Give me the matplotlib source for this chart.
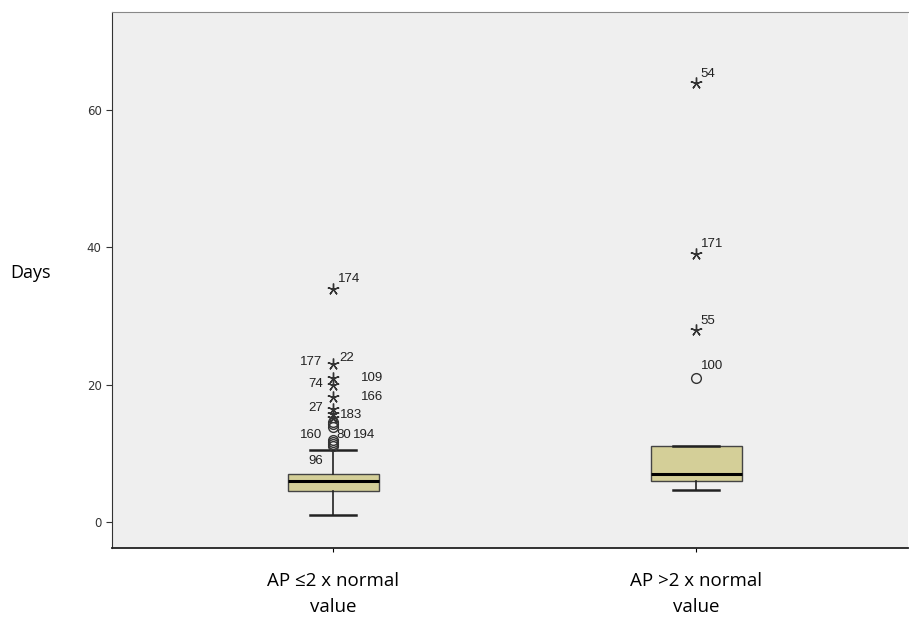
import matplotlib
matplotlib.use("Agg")
import matplotlib.pyplot as plt

# group names shown under the boxes
groups = ["AP \u22642 x normal\nvalue", "AP >2 x normal\nvalue"]

# box statistics (days)
q1 = [4.5, 6.0]
median = [6.0, 7.0]
q3 = [7.0, 11.0]
whisker_low = [1.0, 4.6]
whisker_high = [10.5, 11.0]

# mild outliers (circles) and extreme outliers (stars)
mild_g1 = [11.0, 11.3, 11.6, 12.0, 13.8, 14.2, 14.6]
extreme_g1 = [15.2, 15.7, 16.4, 18.2, 20.0, 21.0, 23.0, 34.0]
mild_g2 = [21.0]
extreme_g2 = [28.0, 39.0, 64.0]

# case labels: (group, value, text)
case_labels = [
    (1, 34.0, "174"), (1, 23.0, "177"), (1, 23.0, "22"), (1, 21.0, "109"),
    (1, 20.0, "74"), (1, 18.2, "166"), (1, 16.4, "27"), (1, 15.5, "183"),
    (1, 13.0, "160"), (1, 13.0, "80"), (1, 13.0, "194"), (1, 9.0, "96"),
    (2, 64.0, "54"), (2, 39.0, "171"), (2, 28.0, "55"), (2, 21.0, "100"),
]
# label offsets in points (dx, dy)
label_offsets = {
    "174": (3, 5), "177": (-24, -1), "22": (4, 2), "109": (20, -2),
    "74": (-18, -2), "166": (20, -2), "27": (-18, -1), "183": (5, -2),
    "160": (-24, -4), "80": (2, -4), "194": (14, -4), "96": (-18, -3),
    "54": (3, 4), "171": (3, 5), "55": (3, 4), "100": (3, 6),
}

fig = plt.figure(figsize=(9.09, 6.2), dpi=100)
ax = fig.add_axes([0.1232, 0.1161, 0.8757, 0.8645])
ax.set_facecolor("#efefef")

stats = []
for i in range(2):
    stats.append({"med": median[i], "q1": q1[i], "q3": q3[i],
                  "whislo": whisker_low[i], "whishi": whisker_high[i],
                  "fliers": []})

ax.bxp(stats, positions=[1, 2], widths=0.25, capwidths=0.127,
       patch_artist=True, showfliers=False,
       boxprops=dict(facecolor="#d4cf98", edgecolor="#444444", linewidth=1.0),
       medianprops=dict(color="black", linewidth=2.2),
       whiskerprops=dict(color="#222222", linewidth=1.2),
       capprops=dict(color="#222222", linewidth=1.8))

star = (5, 2, 0)
ax.plot([1] * len(mild_g1), mild_g1, "o", mfc="none", mec="#333333", ms=7, mew=1.0)
ax.plot([2] * len(mild_g2), mild_g2, "o", mfc="none", mec="#333333", ms=7, mew=1.0)
ax.plot([1] * len(extreme_g1), extreme_g1, marker=star, ls="none", color="#333333", ms=8.5, mew=1.0)
ax.plot([2] * len(extreme_g2), extreme_g2, marker=star, ls="none", color="#333333", ms=8.5, mew=1.0)

for g, v, t in case_labels:
    ax.annotate(t, (g, v), xytext=label_offsets[t], textcoords="offset points",
                fontsize=9.5, color="#222222", family="Liberation Sans")

ax.set_xlim(0.39, 2.583)
ax.set_ylim(-3.8, 74.3)
ax.set_yticks([0, 20, 40, 60])
ax.set_xticks([1, 2])
ax.set_xticklabels(groups, fontsize=13.5, family="Open Sans", linespacing=1.6)
ax.tick_params(axis="y", labelsize=8.5, length=4, color="#333333", labelcolor="#333333")
ax.tick_params(axis="x", length=3, pad=14)

ax.spines["right"].set_visible(False)
ax.spines["top"].set_color("#888888")
ax.spines["left"].set_color("#333333")
ax.spines["bottom"].set_color("#222222")
ax.spines["bottom"].set_linewidth(1.3)

fig.text(0.011, 0.56, "Days", fontsize=13, family="Open Sans", va="center")

fig.savefig("out.png", dpi=100)
plt.close(fig)
